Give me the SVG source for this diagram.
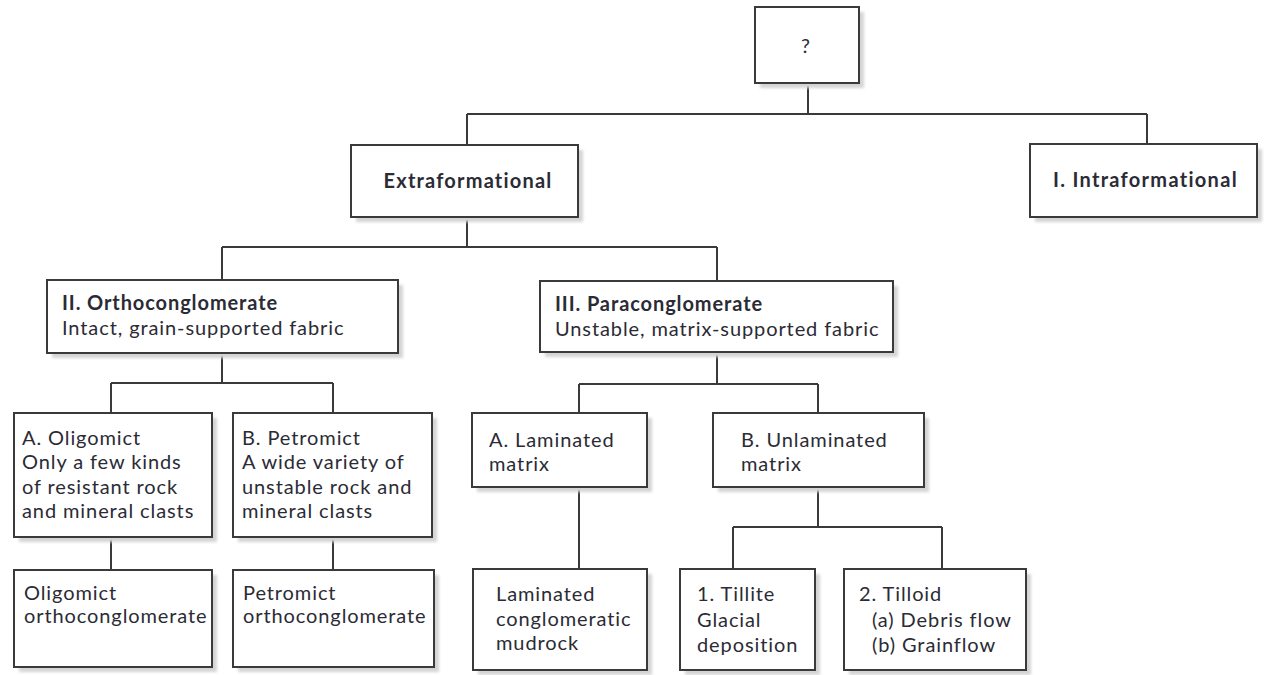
<svg xmlns="http://www.w3.org/2000/svg" width="1266" height="675" viewBox="0 0 1266 675">
<style>
.box{fill:#fff;stroke:#3a3a3a;stroke-width:2}
.sh{fill:#d4d4d4;filter:url(#blur)}
.t{font-family:Lato,"Open Sans",sans-serif;font-size:20px;fill:#2b2b35;letter-spacing:0.9px}
.b{font-weight:bold}
.c{fill:none;stroke:#3a3a3a;stroke-width:2}
</style>
<defs>
<filter id="blur" x="-10%" y="-10%" width="120%" height="120%"><feGaussianBlur stdDeviation="1.5"/></filter>
</defs>
<rect width="1266" height="675" fill="#fff"/>
<g id="connectors" class="c">
<path d="M808,83V114M467,114H1147M467,114V145M1147,114V144"/>
<path d="M467,217V247M222,247H717M222,247V280M717,247V281"/>
<path d="M222,353V383M111,383H333M111,383V413M333,383V413"/>
<path d="M717,352V384M579,384H818M579,384V413M818,384V413"/>
<path d="M111,537V570M333,537V570"/>
<path d="M579,487V569"/>
<path d="M818,487V527M733,527H942M733,527V569M942,527V569"/>
</g>
<g id="n-root">
<rect class="sh" x="760" y="12" width="104" height="76"/>
<rect class="box" x="755" y="7" width="104" height="76"/>
<text class="t" x="806" y="53" text-anchor="middle">?</text>
</g>
<g id="n-extra">
<rect class="sh" x="356" y="150" width="227" height="72"/>
<rect class="box" x="351" y="145" width="227" height="72"/>
<text class="t b" x="468" y="188" text-anchor="middle" style="letter-spacing:1.2px">Extraformational</text>
</g>
<g id="n-intra">
<rect class="sh" x="1035" y="149" width="227" height="73"/>
<rect class="box" x="1030" y="144" width="227" height="73"/>
<text class="t b" x="1053" y="187" style="letter-spacing:1.3px">I. Intraformational</text>
</g>
<g id="n-ortho">
<rect class="sh" x="52" y="285" width="351" height="73"/>
<rect class="box" x="47" y="280" width="351" height="73"/>
<text class="t b" x="62" y="310">II. Orthoconglomerate</text>
<text class="t" x="62" y="335">Intact, grain-supported fabric</text>
</g>
<g id="n-para">
<rect class="sh" x="545" y="286" width="353" height="71"/>
<rect class="box" x="540" y="281" width="353" height="71"/>
<text class="t b" x="555" y="311">III. Paraconglomerate</text>
<text class="t" x="555" y="336">Unstable, matrix-supported fabric</text>
</g>
<g id="n-oligo">
<rect class="sh" x="19" y="418" width="198" height="124"/>
<rect class="box" x="14" y="413" width="198" height="124"/>
<text class="t" x="22" y="445">A. Oligomict</text>
<text class="t" x="22" y="469">Only a few kinds</text>
<text class="t" x="22" y="494">of resistant rock</text>
<text class="t" x="22" y="518">and mineral clasts</text>
</g>
<g id="n-petro">
<rect class="sh" x="238" y="418" width="199" height="124"/>
<rect class="box" x="233" y="413" width="199" height="124"/>
<text class="t" x="242" y="445">B. Petromict</text>
<text class="t" x="242" y="469">A wide variety of</text>
<text class="t" x="242" y="494">unstable rock and</text>
<text class="t" x="242" y="518">mineral clasts</text>
</g>
<g id="n-lamA">
<rect class="sh" x="477" y="418" width="175" height="74"/>
<rect class="box" x="472" y="413" width="175" height="74"/>
<text class="t" x="489" y="447">A. Laminated</text>
<text class="t" x="489" y="471">matrix</text>
</g>
<g id="n-unlam">
<rect class="sh" x="718" y="418" width="211" height="74"/>
<rect class="box" x="713" y="413" width="211" height="74"/>
<text class="t" x="741" y="447">B. Unlaminated</text>
<text class="t" x="741" y="471">matrix</text>
</g>
<g id="n-oligoOrtho">
<rect class="sh" x="19" y="575" width="198" height="97"/>
<rect class="box" x="14" y="570" width="198" height="97"/>
<text class="t" x="24" y="600">Oligomict</text>
<text class="t" x="24" y="623">orthoconglomerate</text>
</g>
<g id="n-petroOrtho">
<rect class="sh" x="238" y="575" width="201" height="97"/>
<rect class="box" x="233" y="570" width="201" height="97"/>
<text class="t" x="243" y="600">Petromict</text>
<text class="t" x="243" y="623">orthoconglomerate</text>
</g>
<g id="n-lamMud">
<rect class="sh" x="478" y="574" width="174" height="101"/>
<rect class="box" x="473" y="569" width="174" height="101"/>
<text class="t" x="496" y="601">Laminated</text>
<text class="t" x="496" y="626">conglomeratic</text>
<text class="t" x="496" y="650">mudrock</text>
</g>
<g id="n-tillite">
<rect class="sh" x="685" y="574" width="135" height="101"/>
<rect class="box" x="680" y="569" width="135" height="101"/>
<text class="t" x="697" y="601">1. Tillite</text>
<text class="t" x="697" y="627">Glacial</text>
<text class="t" x="697" y="652">deposition</text>
</g>
<g id="n-tilloid">
<rect class="sh" x="849" y="574" width="182" height="101"/>
<rect class="box" x="844" y="569" width="182" height="101"/>
<text class="t" x="859" y="601">2. Tilloid</text>
<text class="t" x="872" y="627">(a) Debris flow</text>
<text class="t" x="872" y="652">(b) Grainflow</text>
</g>
</svg>
